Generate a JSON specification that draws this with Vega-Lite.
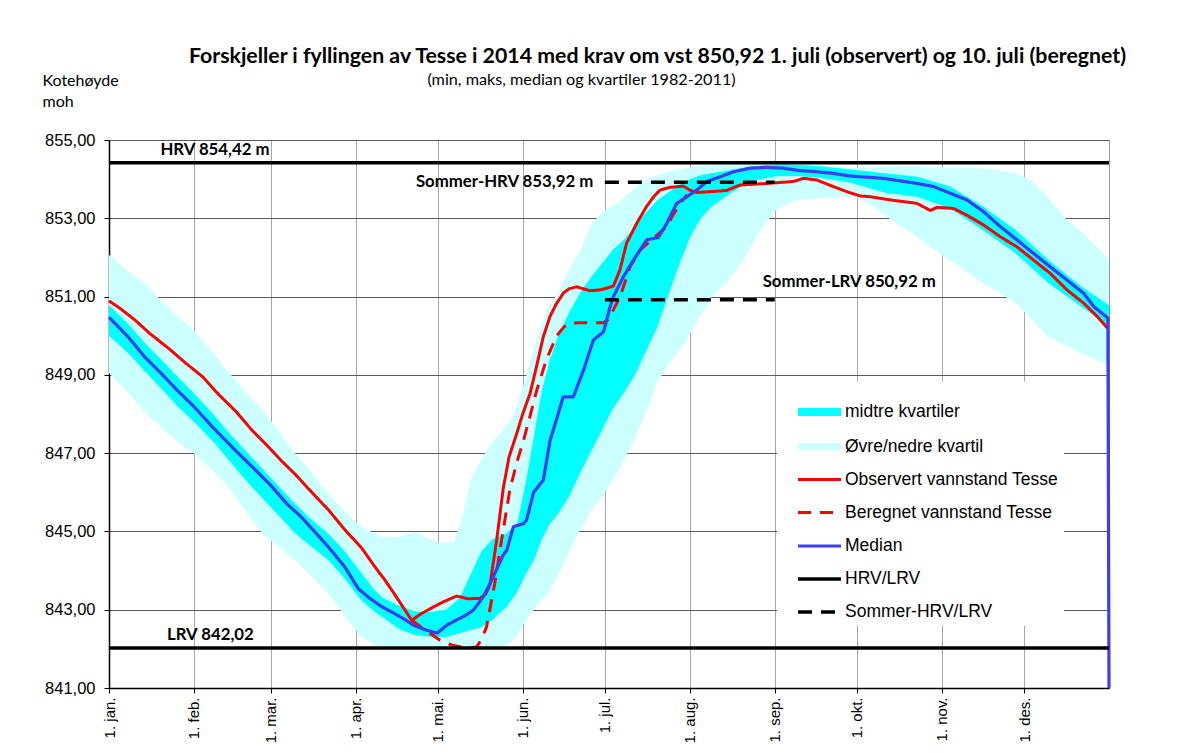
{
  "$schema": "https://vega.github.io/schema/vega-lite/v6.json",
  "width": 1000,
  "height": 548,
  "autosize": {"type": "none"},
  "padding": {"left": 109, "top": 140, "right": 73, "bottom": 65},
  "background": "white",
  "config": {
    "view": {"stroke": "#9a9a9a", "strokeWidth": 1},
    "axis": {"labelFont": "Liberation Sans", "labelColor": "#000", "tickColor": "#000", "domainColor": "#000", "titleColor": "#000"}
  },
  "datasets": {
    "minmax": [
      {"dag": 0, "min": 849.05, "max": 852.06}, {"dag": 7, "min": 848.55, "max": 851.65}, {"dag": 13, "min": 848.05, "max": 851.34},
      {"dag": 19, "min": 847.67, "max": 850.9}, {"dag": 25, "min": 847.3, "max": 850.5}, {"dag": 31, "min": 846.99, "max": 850.14},
      {"dag": 38, "min": 846.55, "max": 849.55}, {"dag": 44, "min": 846.1, "max": 849.04}, {"dag": 50, "min": 845.5, "max": 848.55},
      {"dag": 56, "min": 844.95, "max": 848.1}, {"dag": 62, "min": 844.6, "max": 847.55}, {"dag": 68, "min": 844.27, "max": 846.99},
      {"dag": 74, "min": 843.85, "max": 846.5}, {"dag": 80, "min": 843.42, "max": 845.97}, {"dag": 86, "min": 842.85, "max": 845.5},
      {"dag": 92, "min": 842.31, "max": 845.12}, {"dag": 97, "min": 842.1, "max": 844.95}, {"dag": 100, "min": 842.02, "max": 844.85},
      {"dag": 106, "min": 842.0, "max": 844.86}, {"dag": 112, "min": 842.0, "max": 844.99}, {"dag": 117, "min": 842.0, "max": 844.8},
      {"dag": 121, "min": 842.0, "max": 844.69}, {"dag": 126, "min": 842.0, "max": 844.74}, {"dag": 129, "min": 842.0, "max": 845.4},
      {"dag": 132, "min": 842.02, "max": 846.3}, {"dag": 136, "min": 842.02, "max": 846.85}, {"dag": 140, "min": 842.03, "max": 847.3},
      {"dag": 144, "min": 842.05, "max": 847.6}, {"dag": 148, "min": 842.25, "max": 848.0}, {"dag": 152, "min": 842.7, "max": 848.9},
      {"dag": 156, "min": 843.1, "max": 849.9}, {"dag": 160, "min": 843.4, "max": 850.7}, {"dag": 164, "min": 843.9, "max": 851.1},
      {"dag": 168, "min": 844.5, "max": 851.7}, {"dag": 172, "min": 845.05, "max": 852.15}, {"dag": 176, "min": 845.55, "max": 852.85},
      {"dag": 180, "min": 845.9, "max": 853.15}, {"dag": 185, "min": 846.45, "max": 853.35}, {"dag": 190, "min": 847.1, "max": 853.65},
      {"dag": 195, "min": 847.85, "max": 853.95}, {"dag": 200, "min": 848.8, "max": 854.1}, {"dag": 205, "min": 849.35, "max": 854.2},
      {"dag": 210, "min": 849.8, "max": 854.28}, {"dag": 215, "min": 850.4, "max": 854.33}, {"dag": 220, "min": 851.0, "max": 854.37},
      {"dag": 226, "min": 851.4, "max": 854.4}, {"dag": 232, "min": 852.0, "max": 854.4}, {"dag": 238, "min": 852.7, "max": 854.4},
      {"dag": 243, "min": 853.2, "max": 854.38}, {"dag": 250, "min": 853.45, "max": 854.37}, {"dag": 258, "min": 853.5, "max": 854.35},
      {"dag": 266, "min": 853.55, "max": 854.3}, {"dag": 272, "min": 853.55, "max": 854.28}, {"dag": 278, "min": 853.35, "max": 854.3},
      {"dag": 283, "min": 853.08, "max": 854.32}, {"dag": 289, "min": 852.8, "max": 854.32}, {"dag": 295, "min": 852.53, "max": 854.32},
      {"dag": 301, "min": 852.2, "max": 854.3}, {"dag": 307, "min": 851.93, "max": 854.3}, {"dag": 313, "min": 851.65, "max": 854.29},
      {"dag": 319, "min": 851.34, "max": 854.28}, {"dag": 325, "min": 851.1, "max": 854.22}, {"dag": 331, "min": 850.83, "max": 854.15},
      {"dag": 337, "min": 850.4, "max": 853.95}, {"dag": 343, "min": 849.97, "max": 853.5}, {"dag": 349, "min": 849.75, "max": 853.0},
      {"dag": 355, "min": 849.55, "max": 852.65}, {"dag": 360, "min": 849.4, "max": 852.3}, {"dag": 365, "min": 849.2, "max": 851.95}
    ],
    "kvartil": [
      {"dag": 0, "q25": 850.0, "q75": 850.78}, {"dag": 7, "q25": 849.55, "q75": 850.3}, {"dag": 13, "q25": 849.1, "q75": 849.82},
      {"dag": 19, "q25": 848.65, "q75": 849.4}, {"dag": 25, "q25": 848.2, "q75": 848.95}, {"dag": 31, "q25": 847.8, "q75": 848.53},
      {"dag": 38, "q25": 847.3, "q75": 848.0}, {"dag": 44, "q25": 846.8, "q75": 847.5}, {"dag": 50, "q25": 846.3, "q75": 847.05},
      {"dag": 56, "q25": 845.85, "q75": 846.6}, {"dag": 62, "q25": 845.4, "q75": 846.15}, {"dag": 68, "q25": 844.95, "q75": 845.7},
      {"dag": 74, "q25": 844.6, "q75": 845.3}, {"dag": 80, "q25": 844.27, "q75": 844.95}, {"dag": 86, "q25": 843.8, "q75": 844.5},
      {"dag": 92, "q25": 843.25, "q75": 843.95}, {"dag": 97, "q25": 842.95, "q75": 843.5}, {"dag": 100, "q25": 842.8, "q75": 843.3},
      {"dag": 106, "q25": 842.5, "q75": 843.1}, {"dag": 112, "q25": 842.35, "q75": 842.95}, {"dag": 118, "q25": 842.3, "q75": 842.95},
      {"dag": 123, "q25": 842.3, "q75": 843.0}, {"dag": 128, "q25": 842.4, "q75": 843.3}, {"dag": 132, "q25": 842.48, "q75": 843.9},
      {"dag": 136, "q25": 842.55, "q75": 844.5}, {"dag": 140, "q25": 842.75, "q75": 844.8}, {"dag": 145, "q25": 843.07, "q75": 844.95},
      {"dag": 149, "q25": 843.45, "q75": 845.2}, {"dag": 152, "q25": 843.9, "q75": 846.2}, {"dag": 155, "q25": 844.25, "q75": 847.4},
      {"dag": 158, "q25": 844.8, "q75": 848.6}, {"dag": 161, "q25": 845.2, "q75": 849.4}, {"dag": 164, "q25": 845.46, "q75": 850.0},
      {"dag": 168, "q25": 845.9, "q75": 850.6}, {"dag": 172, "q25": 846.5, "q75": 851.1}, {"dag": 176, "q25": 847.05, "q75": 851.5},
      {"dag": 180, "q25": 847.6, "q75": 851.85}, {"dag": 184, "q25": 848.15, "q75": 852.2}, {"dag": 188, "q25": 848.55, "q75": 852.45},
      {"dag": 192, "q25": 849.0, "q75": 852.8}, {"dag": 196, "q25": 849.6, "q75": 853.15}, {"dag": 200, "q25": 850.2, "q75": 853.45},
      {"dag": 204, "q25": 851.0, "q75": 853.65}, {"dag": 208, "q25": 851.8, "q75": 853.85}, {"dag": 212, "q25": 852.5, "q75": 854.0},
      {"dag": 216, "q25": 853.0, "q75": 854.1}, {"dag": 220, "q25": 853.3, "q75": 854.15}, {"dag": 226, "q25": 853.6, "q75": 854.22},
      {"dag": 234, "q25": 853.95, "q75": 854.32}, {"dag": 244, "q25": 854.08, "q75": 854.38}, {"dag": 252, "q25": 854.08, "q75": 854.36},
      {"dag": 260, "q25": 854.03, "q75": 854.33}, {"dag": 270, "q25": 853.92, "q75": 854.25}, {"dag": 283, "q25": 853.66, "q75": 854.15},
      {"dag": 295, "q25": 853.55, "q75": 854.06}, {"dag": 307, "q25": 853.25, "q75": 853.81}, {"dag": 319, "q25": 852.7, "q75": 853.3},
      {"dag": 331, "q25": 852.1, "q75": 852.7}, {"dag": 343, "q25": 851.34, "q75": 851.93}, {"dag": 355, "q25": 850.74, "q75": 851.25},
      {"dag": 365, "q25": 850.25, "q75": 850.78}
    ],
    "linjer": [
      {"serie": "Beregnet vannstand Tesse", "dag": 110.5, "kote": 842.73}, {"serie": "Beregnet vannstand Tesse", "dag": 115, "kote": 842.5},
      {"serie": "Beregnet vannstand Tesse", "dag": 120.8, "kote": 842.22}, {"serie": "Beregnet vannstand Tesse", "dag": 125, "kote": 842.1},
      {"serie": "Beregnet vannstand Tesse", "dag": 130.5, "kote": 842.02}, {"serie": "Beregnet vannstand Tesse", "dag": 134.2, "kote": 842.05},
      {"serie": "Beregnet vannstand Tesse", "dag": 136, "kote": 842.25}, {"serie": "Beregnet vannstand Tesse", "dag": 137.8, "kote": 842.56},
      {"serie": "Beregnet vannstand Tesse", "dag": 140.8, "kote": 843.67}, {"serie": "Beregnet vannstand Tesse", "dag": 143.3, "kote": 844.78},
      {"serie": "Beregnet vannstand Tesse", "dag": 146.3, "kote": 846.06}, {"serie": "Beregnet vannstand Tesse", "dag": 148.8, "kote": 846.75},
      {"serie": "Beregnet vannstand Tesse", "dag": 151.2, "kote": 847.3}, {"serie": "Beregnet vannstand Tesse", "dag": 153.7, "kote": 847.95},
      {"serie": "Beregnet vannstand Tesse", "dag": 156.1, "kote": 848.6}, {"serie": "Beregnet vannstand Tesse", "dag": 159.7, "kote": 849.4},
      {"serie": "Beregnet vannstand Tesse", "dag": 163.4, "kote": 850.0}, {"serie": "Beregnet vannstand Tesse", "dag": 166, "kote": 850.22},
      {"serie": "Beregnet vannstand Tesse", "dag": 168.2, "kote": 850.32}, {"serie": "Beregnet vannstand Tesse", "dag": 171.9, "kote": 850.33},
      {"serie": "Beregnet vannstand Tesse", "dag": 180.4, "kote": 850.33}, {"serie": "Beregnet vannstand Tesse", "dag": 182, "kote": 850.4},
      {"serie": "Beregnet vannstand Tesse", "dag": 184.1, "kote": 850.66}, {"serie": "Beregnet vannstand Tesse", "dag": 186.5, "kote": 851.0},
      {"serie": "Beregnet vannstand Tesse", "dag": 188, "kote": 851.3}, {"serie": "Beregnet vannstand Tesse", "dag": 190.2, "kote": 851.76},
      {"serie": "Beregnet vannstand Tesse", "dag": 193.9, "kote": 852.19}, {"serie": "Beregnet vannstand Tesse", "dag": 198.8, "kote": 852.5},
      {"serie": "Beregnet vannstand Tesse", "dag": 203.6, "kote": 852.79}, {"serie": "Beregnet vannstand Tesse", "dag": 206, "kote": 853.1},
      {"serie": "Beregnet vannstand Tesse", "dag": 208.5, "kote": 853.38}, {"serie": "Beregnet vannstand Tesse", "dag": 211, "kote": 853.6},

      {"serie": "Observert vannstand Tesse", "dag": 0, "kote": 850.89}, {"serie": "Observert vannstand Tesse", "dag": 4, "kote": 850.7},
      {"serie": "Observert vannstand Tesse", "dag": 9.5, "kote": 850.4}, {"serie": "Observert vannstand Tesse", "dag": 15, "kote": 850.05},
      {"serie": "Observert vannstand Tesse", "dag": 21.7, "kote": 849.68}, {"serie": "Observert vannstand Tesse", "dag": 28, "kote": 849.3},
      {"serie": "Observert vannstand Tesse", "dag": 34.2, "kote": 848.95}, {"serie": "Observert vannstand Tesse", "dag": 40, "kote": 848.5},
      {"serie": "Observert vannstand Tesse", "dag": 46.4, "kote": 848.06}, {"serie": "Observert vannstand Tesse", "dag": 52, "kote": 847.6},
      {"serie": "Observert vannstand Tesse", "dag": 58.2, "kote": 847.16}, {"serie": "Observert vannstand Tesse", "dag": 63, "kote": 846.8},
      {"serie": "Observert vannstand Tesse", "dag": 68.1, "kote": 846.45}, {"serie": "Observert vannstand Tesse", "dag": 74, "kote": 846.0},
      {"serie": "Observert vannstand Tesse", "dag": 80.1, "kote": 845.55}, {"serie": "Observert vannstand Tesse", "dag": 86, "kote": 845.05},
      {"serie": "Observert vannstand Tesse", "dag": 92.3, "kote": 844.57}, {"serie": "Observert vannstand Tesse", "dag": 97, "kote": 844.1},
      {"serie": "Observert vannstand Tesse", "dag": 100.8, "kote": 843.75}, {"serie": "Observert vannstand Tesse", "dag": 103.7, "kote": 843.45},
      {"serie": "Observert vannstand Tesse", "dag": 107, "kote": 843.1}, {"serie": "Observert vannstand Tesse", "dag": 110.5, "kote": 842.73},
      {"serie": "Observert vannstand Tesse", "dag": 114, "kote": 842.9}, {"serie": "Observert vannstand Tesse", "dag": 118.4, "kote": 843.07},
      {"serie": "Observert vannstand Tesse", "dag": 122, "kote": 843.2}, {"serie": "Observert vannstand Tesse", "dag": 126.9, "kote": 843.35},
      {"serie": "Observert vannstand Tesse", "dag": 131, "kote": 843.28}, {"serie": "Observert vannstand Tesse", "dag": 135.4, "kote": 843.29},
      {"serie": "Observert vannstand Tesse", "dag": 137.5, "kote": 843.4}, {"serie": "Observert vannstand Tesse", "dag": 139.1, "kote": 843.65},
      {"serie": "Observert vannstand Tesse", "dag": 141.5, "kote": 844.78}, {"serie": "Observert vannstand Tesse", "dag": 143.9, "kote": 846.1},
      {"serie": "Observert vannstand Tesse", "dag": 146, "kote": 846.9}, {"serie": "Observert vannstand Tesse", "dag": 148.8, "kote": 847.5},
      {"serie": "Observert vannstand Tesse", "dag": 151, "kote": 848.0}, {"serie": "Observert vannstand Tesse", "dag": 153.7, "kote": 848.53},
      {"serie": "Observert vannstand Tesse", "dag": 156, "kote": 849.2}, {"serie": "Observert vannstand Tesse", "dag": 158.5, "kote": 849.97},
      {"serie": "Observert vannstand Tesse", "dag": 161, "kote": 850.5}, {"serie": "Observert vannstand Tesse", "dag": 163.4, "kote": 850.83},
      {"serie": "Observert vannstand Tesse", "dag": 166, "kote": 851.1}, {"serie": "Observert vannstand Tesse", "dag": 168, "kote": 851.2},
      {"serie": "Observert vannstand Tesse", "dag": 170.7, "kote": 851.25}, {"serie": "Observert vannstand Tesse", "dag": 173, "kote": 851.2},
      {"serie": "Observert vannstand Tesse", "dag": 175.6, "kote": 851.15}, {"serie": "Observert vannstand Tesse", "dag": 179.3, "kote": 851.17},
      {"serie": "Observert vannstand Tesse", "dag": 182, "kote": 851.22}, {"serie": "Observert vannstand Tesse", "dag": 184.1, "kote": 851.27},
      {"serie": "Observert vannstand Tesse", "dag": 186.5, "kote": 851.68}, {"serie": "Observert vannstand Tesse", "dag": 188.9, "kote": 852.36},
      {"serie": "Observert vannstand Tesse", "dag": 192.6, "kote": 852.87}, {"serie": "Observert vannstand Tesse", "dag": 196.2, "kote": 853.3},
      {"serie": "Observert vannstand Tesse", "dag": 198.8, "kote": 853.55}, {"serie": "Observert vannstand Tesse", "dag": 201.1, "kote": 853.72},
      {"serie": "Observert vannstand Tesse", "dag": 204.7, "kote": 853.79}, {"serie": "Observert vannstand Tesse", "dag": 209.6, "kote": 853.82},
      {"serie": "Observert vannstand Tesse", "dag": 212, "kote": 853.72}, {"serie": "Observert vannstand Tesse", "dag": 214.5, "kote": 853.66},
      {"serie": "Observert vannstand Tesse", "dag": 219.3, "kote": 853.68}, {"serie": "Observert vannstand Tesse", "dag": 225.4, "kote": 853.71},
      {"serie": "Observert vannstand Tesse", "dag": 230.3, "kote": 853.85}, {"serie": "Observert vannstand Tesse", "dag": 240.1, "kote": 853.89},
      {"serie": "Observert vannstand Tesse", "dag": 249.8, "kote": 853.94}, {"serie": "Observert vannstand Tesse", "dag": 253.5, "kote": 854.02},
      {"serie": "Observert vannstand Tesse", "dag": 258.3, "kote": 853.98}, {"serie": "Observert vannstand Tesse", "dag": 264.4, "kote": 853.81},
      {"serie": "Observert vannstand Tesse", "dag": 269.3, "kote": 853.68}, {"serie": "Observert vannstand Tesse", "dag": 274.2, "kote": 853.57},
      {"serie": "Observert vannstand Tesse", "dag": 278, "kote": 853.55}, {"serie": "Observert vannstand Tesse", "dag": 285.1, "kote": 853.47},
      {"serie": "Observert vannstand Tesse", "dag": 294.9, "kote": 853.38}, {"serie": "Observert vannstand Tesse", "dag": 299.8, "kote": 853.2},
      {"serie": "Observert vannstand Tesse", "dag": 302.2, "kote": 853.28}, {"serie": "Observert vannstand Tesse", "dag": 308.3, "kote": 853.25},
      {"serie": "Observert vannstand Tesse", "dag": 313.1, "kote": 853.08}, {"serie": "Observert vannstand Tesse", "dag": 319.2, "kote": 852.83},
      {"serie": "Observert vannstand Tesse", "dag": 325.3, "kote": 852.53}, {"serie": "Observert vannstand Tesse", "dag": 331.4, "kote": 852.27},
      {"serie": "Observert vannstand Tesse", "dag": 337.5, "kote": 851.93}, {"serie": "Observert vannstand Tesse", "dag": 343.6, "kote": 851.59},
      {"serie": "Observert vannstand Tesse", "dag": 349.7, "kote": 851.17}, {"serie": "Observert vannstand Tesse", "dag": 355.8, "kote": 850.83},
      {"serie": "Observert vannstand Tesse", "dag": 360.7, "kote": 850.49}, {"serie": "Observert vannstand Tesse", "dag": 364.5, "kote": 850.19},

      {"serie": "Median", "dag": 0, "kote": 850.47}, {"serie": "Median", "dag": 7, "kote": 849.97}, {"serie": "Median", "dag": 13, "kote": 849.46},
      {"serie": "Median", "dag": 19, "kote": 849.04}, {"serie": "Median", "dag": 25, "kote": 848.6}, {"serie": "Median", "dag": 31, "kote": 848.19},
      {"serie": "Median", "dag": 38, "kote": 847.65}, {"serie": "Median", "dag": 46, "kote": 847.08}, {"serie": "Median", "dag": 53, "kote": 846.6},
      {"serie": "Median", "dag": 59, "kote": 846.18}, {"serie": "Median", "dag": 65, "kote": 845.7}, {"serie": "Median", "dag": 70, "kote": 845.38},
      {"serie": "Median", "dag": 75, "kote": 845.0}, {"serie": "Median", "dag": 80, "kote": 844.61}, {"serie": "Median", "dag": 86, "kote": 844.1},
      {"serie": "Median", "dag": 91, "kote": 843.54}, {"serie": "Median", "dag": 95, "kote": 843.3}, {"serie": "Median", "dag": 99.5, "kote": 843.08},
      {"serie": "Median", "dag": 104, "kote": 842.91}, {"serie": "Median", "dag": 108, "kote": 842.75}, {"serie": "Median", "dag": 111, "kote": 842.61},
      {"serie": "Median", "dag": 115, "kote": 842.5}, {"serie": "Median", "dag": 119.7, "kote": 842.4}, {"serie": "Median", "dag": 123.4, "kote": 842.61},
      {"serie": "Median", "dag": 126.9, "kote": 842.74}, {"serie": "Median", "dag": 130, "kote": 842.85}, {"serie": "Median", "dag": 133, "kote": 842.99},
      {"serie": "Median", "dag": 136.6, "kote": 843.33}, {"serie": "Median", "dag": 140, "kote": 843.8}, {"serie": "Median", "dag": 143.9, "kote": 844.4},
      {"serie": "Median", "dag": 145.2, "kote": 844.52}, {"serie": "Median", "dag": 147.6, "kote": 845.12}, {"serie": "Median", "dag": 151.3, "kote": 845.2},
      {"serie": "Median", "dag": 152.4, "kote": 845.29}, {"serie": "Median", "dag": 155, "kote": 846.0}, {"serie": "Median", "dag": 158.5, "kote": 846.31},
      {"serie": "Median", "dag": 161, "kote": 847.33}, {"serie": "Median", "dag": 163.5, "kote": 847.9}, {"serie": "Median", "dag": 165.8, "kote": 848.44},
      {"serie": "Median", "dag": 169.5, "kote": 848.44}, {"serie": "Median", "dag": 173.2, "kote": 849.12}, {"serie": "Median", "dag": 176.8, "kote": 849.89},
      {"serie": "Median", "dag": 180.5, "kote": 850.1}, {"serie": "Median", "dag": 182.9, "kote": 850.74}, {"serie": "Median", "dag": 184.1, "kote": 851.0},
      {"serie": "Median", "dag": 187.8, "kote": 851.51}, {"serie": "Median", "dag": 191.4, "kote": 851.93}, {"serie": "Median", "dag": 196.3, "kote": 852.45},
      {"serie": "Median", "dag": 200.5, "kote": 852.51}, {"serie": "Median", "dag": 203.6, "kote": 852.87}, {"serie": "Median", "dag": 207.2, "kote": 853.38},
      {"serie": "Median", "dag": 210.9, "kote": 853.55}, {"serie": "Median", "dag": 214.5, "kote": 853.72}, {"serie": "Median", "dag": 218.2, "kote": 853.94},
      {"serie": "Median", "dag": 223.1, "kote": 854.06}, {"serie": "Median", "dag": 228, "kote": 854.19}, {"serie": "Median", "dag": 234, "kote": 854.28},
      {"serie": "Median", "dag": 240, "kote": 854.3}, {"serie": "Median", "dag": 246, "kote": 854.28}, {"serie": "Median", "dag": 252, "kote": 854.22},
      {"serie": "Median", "dag": 258, "kote": 854.19}, {"serie": "Median", "dag": 264, "kote": 854.15}, {"serie": "Median", "dag": 270.5, "kote": 854.08},
      {"serie": "Median", "dag": 282.7, "kote": 854.02}, {"serie": "Median", "dag": 294.9, "kote": 853.89}, {"serie": "Median", "dag": 301, "kote": 853.81},
      {"serie": "Median", "dag": 307, "kote": 853.64}, {"serie": "Median", "dag": 313.1, "kote": 853.47}, {"serie": "Median", "dag": 319.2, "kote": 853.17},
      {"serie": "Median", "dag": 325.3, "kote": 852.79}, {"serie": "Median", "dag": 331.4, "kote": 852.45}, {"serie": "Median", "dag": 337.5, "kote": 852.1},
      {"serie": "Median", "dag": 343.6, "kote": 851.76}, {"serie": "Median", "dag": 349.7, "kote": 851.42}, {"serie": "Median", "dag": 355.8, "kote": 851.08},
      {"serie": "Median", "dag": 359.5, "kote": 850.74}, {"serie": "Median", "dag": 364.6, "kote": 850.45}, {"serie": "Median", "dag": 365, "kote": 841.0},

      {"serie": "HRV/LRV", "id": "HRV", "dag": 0, "kote": 854.42}, {"serie": "HRV/LRV", "id": "HRV", "dag": 365, "kote": 854.42},
      {"serie": "HRV/LRV", "id": "LRV", "dag": 0, "kote": 842.02}, {"serie": "HRV/LRV", "id": "LRV", "dag": 365, "kote": 842.02},
      {"serie": "Sommer-HRV/LRV", "id": "SHRV", "dag": 181, "kote": 853.92}, {"serie": "Sommer-HRV/LRV", "id": "SHRV", "dag": 243, "kote": 853.92},
      {"serie": "Sommer-HRV/LRV", "id": "SLRV", "dag": 181, "kote": 850.92}, {"serie": "Sommer-HRV/LRV", "id": "SLRV", "dag": 243, "kote": 850.92}
    ],
    "etiketter": [
      {"tekst": "HRV  854,42 m", "dag": 38.7, "kote": 854.74},
      {"tekst": "LRV  842,02", "dag": 37.0, "kote": 842.35},
      {"tekst": "Sommer-HRV  853,92 m", "dag": 144.4, "kote": 853.93},
      {"tekst": "Sommer-LRV  850,92 m", "dag": 270.2, "kote": 851.38}
    ]
  },
  "layer": [
    {
      "data": {"name": "minmax"},
      "mark": {"type": "area", "color": "#ccffff", "opacity": 1},
      "encoding": {
        "x": {"field": "dag", "type": "quantitative", "scale": {"domain": [0, 365], "nice": false, "zero": false},
          "axis": {"orient": "bottom", "title": null, "values": [0, 31, 59, 90, 120, 151, 181, 212, 243, 273, 304, 334],
            "labelExpr": "['1. jan.','1. feb.','1. mar.','1. apr.','1. mai.','1. jun.','1. jul.','1. aug.','1. sep.','1. okt.','1. nov.','1. des.'][indexof([0,31,59,90,120,151,181,212,243,273,304,334], datum.value)]",
            "labelAngle": 270, "labelAlign": "right", "labelBaseline": "middle", "labelFontSize": 15, "labelPadding": 4,
            "tickSize": 5, "grid": true, "gridColor": "#a8a8a8", "gridWidth": 1, "domainWidth": 1.5}},
        "y": {"field": "min", "type": "quantitative", "scale": {"domain": [841, 855], "nice": false, "zero": false},
          "axis": {"orient": "left", "values": [841, 843, 845, 847, 849, 851, 853, 855],
            "labelExpr": "replace(format(datum.value, '.2f'), '.', ',')", "labelFontSize": 16.5, "labelPadding": 9,
            "tickSize": 5, "grid": true, "gridColor": "#5a5a5a", "gridWidth": 1, "domainWidth": 1.5,
            "title": ["Kotehøyde", "moh"], "titleFont": "Lato", "titleFontSize": 16, "titleFontWeight": "normal",
            "titleAngle": 0, "titleAlign": "left", "titleBaseline": "alphabetic", "titleX": -67, "titleY": -55, "titleLineHeight": 21}},
        "y2": {"field": "max"}
      }
    },
    {
      "data": {"name": "kvartil"},
      "mark": {"type": "area", "color": "#00ffff", "opacity": 1},
      "encoding": {
        "x": {"field": "dag", "type": "quantitative", "scale": {"domain": [0, 365], "nice": false, "zero": false}, "axis": null},
        "y": {"field": "q25", "type": "quantitative", "scale": {"domain": [841, 855], "nice": false, "zero": false}, "axis": null},
        "y2": {"field": "q75"}
      }
    },
    {
      "data": {"name": "linjer"},
      "mark": {"type": "line", "strokeCap": "butt", "strokeJoin": "round"},
      "encoding": {
        "x": {"field": "dag", "type": "quantitative", "scale": {"domain": [0, 365], "nice": false, "zero": false}, "axis": null},
        "y": {"field": "kote", "type": "quantitative", "scale": {"domain": [841, 855], "nice": false, "zero": false}, "axis": null},
        "detail": {"field": "id"},
        "color": {"field": "serie", "type": "nominal",
          "scale": {"domain": ["midtre kvartiler", "Øvre/nedre kvartil", "Observert vannstand Tesse", "Beregnet vannstand Tesse", "Median", "HRV/LRV", "Sommer-HRV/LRV"],
            "range": ["#00ffff", "#ccffff", "#ff0000", "#ff0000", "#3c3cf5", "#000000", "#000000"]},
          "legend": {"title": null, "orient": "none", "legendX": 668, "legendY": 241.5, "symbolType": "stroke", "symbolSize": 1849,
            "labelFont": "Liberation Sans", "labelFontSize": 17.5, "labelColor": "#000", "fillColor": "white", "gridAlign": "each",
            "padding": 5, "rowPadding": 1, "labelOffset": 0, "symbolOffset": 12, "labelLimit": 400,
            "encode": {"symbols": {"update": {"strokeJoin": {"value": "round"}, "strokeCap": {"value": "butt"}}}}}},
        "strokeDash": {"field": "serie", "type": "nominal",
          "scale": {"type": "ordinal", "domain": ["midtre kvartiler", "Øvre/nedre kvartil", "Observert vannstand Tesse", "Beregnet vannstand Tesse", "Median", "HRV/LRV", "Sommer-HRV/LRV"],
            "range": [[1, 0], [1, 0], [1, 0], [13, 9], [1, 0], [1, 0], [14, 9]]},
          "legend": {"title": null, "orient": "none", "legendX": 668, "legendY": 241.5, "symbolType": "stroke", "symbolSize": 1849,
            "labelFont": "Liberation Sans", "labelFontSize": 17.5, "labelColor": "#000", "fillColor": "white", "gridAlign": "each",
            "padding": 5, "rowPadding": 1, "labelOffset": 0, "symbolOffset": 12, "labelLimit": 400,
            "encode": {"symbols": {"update": {"strokeJoin": {"value": "round"}, "strokeCap": {"value": "butt"}}}}}},
        "strokeWidth": {"field": "serie", "type": "nominal",
          "scale": {"type": "ordinal", "domain": ["midtre kvartiler", "Øvre/nedre kvartil", "Observert vannstand Tesse", "Beregnet vannstand Tesse", "Median", "HRV/LRV", "Sommer-HRV/LRV"],
            "range": [8, 7, 3, 3, 3.2, 3.5, 3.5]},
          "legend": {"title": null, "orient": "none", "legendX": 668, "legendY": 241.5, "symbolType": "stroke", "symbolSize": 1849,
            "labelFont": "Liberation Sans", "labelFontSize": 17.5, "labelColor": "#000", "fillColor": "white", "gridAlign": "each",
            "padding": 5, "rowPadding": 1, "labelOffset": 0, "symbolOffset": 12, "labelLimit": 400,
            "encode": {"symbols": {"update": {"strokeJoin": {"value": "round"}, "strokeCap": {"value": "butt"}}}}}}
      }
    },
    {
      "data": {"name": "etiketter"},
      "mark": {"type": "text", "font": "Lato", "fontSize": 16.8, "fontWeight": "bold", "color": "#000", "align": "center", "baseline": "middle"},
      "encoding": {
        "x": {"field": "dag", "type": "quantitative", "scale": {"domain": [0, 365], "nice": false, "zero": false},
          "axis": {"orient": "top", "labels": false, "ticks": false, "domain": false, "grid": false,
            "title": "Forskjeller i fyllingen av Tesse i 2014 med krav om vst 850,92 1. juli (observert) og 10. juli (beregnet)",
            "titleFont": "Lato", "titleFontSize": 21.3, "titleFontWeight": "bold", "titleX": 548, "titleY": -78,
            "titleAlign": "center", "titleBaseline": "alphabetic"}},
        "y": {"field": "kote", "type": "quantitative", "scale": {"domain": [841, 855], "nice": false, "zero": false},
          "axis": {"orient": "right", "labels": false, "ticks": false, "domain": false, "grid": false,
            "title": "(min, maks, median og kvartiler 1982-2011)",
            "titleFont": "Lato", "titleFontSize": 16.2, "titleFontWeight": "normal", "titleAngle": 0, "titleX": -528, "titleY": -56,
            "titleAlign": "center", "titleBaseline": "alphabetic"}},
        "text": {"field": "tekst"}
      }
    }
  ],
  "resolve": {"axis": {"x": "independent", "y": "independent"}}
}
